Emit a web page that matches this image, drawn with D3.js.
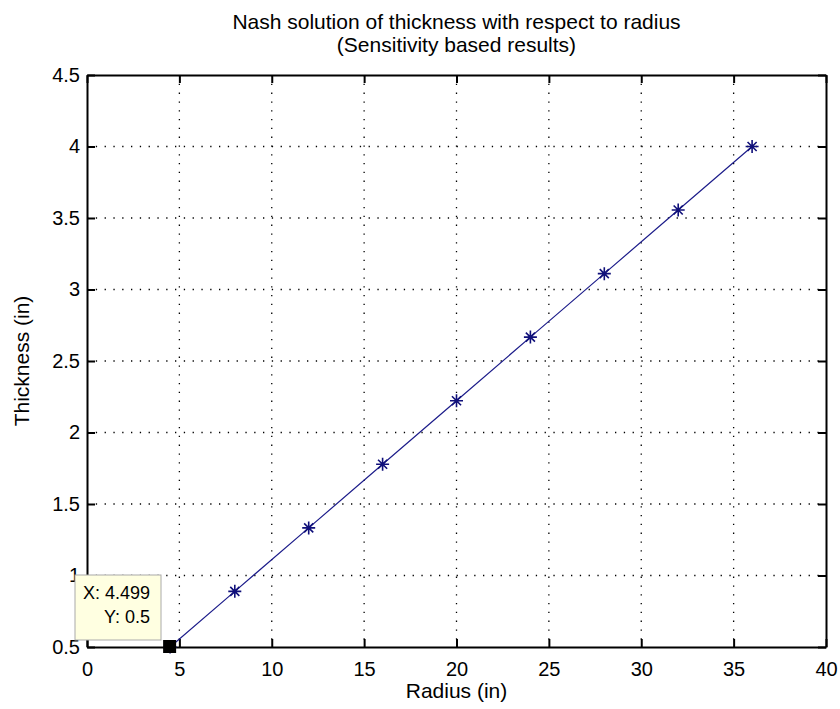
<!DOCTYPE html>
<html><head><meta charset="utf-8">
<script src="https://cdn.jsdelivr.net/npm/d3@7"></script>
<style>
html,body{margin:0;padding:0;background:#fff;}
text{font-family:"Liberation Sans",Arial,sans-serif;fill:#000;}
</style></head>
<body><svg id="chart" width="840" height="709"></svg>
<script>
const radius = [4.499, 8, 12, 16, 20, 24, 28, 32, 36];
const thickness = [0.5, 0.889, 1.333, 1.778, 2.222, 2.667, 3.111, 3.556, 4.0];
const xTicks = [0, 5, 10, 15, 20, 25, 30, 35, 40];
const yTicks = [0.5, 1, 1.5, 2, 2.5, 3, 3.5, 4, 4.5];
const titleLines = ["Nash solution of thickness with respect to radius", "(Sensitivity based results)"];
const tipLines = ["X: 4.499", "Y: 0.5"];

const svg = d3.select("#chart");
const L = 87, R = 826, T = 75, B = 647;
const x = d3.scaleLinear().domain([0, 40]).range([L, R]);
const y = d3.scaleLinear().domain([0.5, 4.5]).range([B, T]);

// grid
const g = svg.append("g");
g.selectAll(".gx").data(xTicks.slice(1, -1)).enter().append("line")
  .attr("x1", d => x(d)).attr("x2", d => x(d)).attr("y1", T).attr("y2", B)
  .attr("stroke", "#000").attr("stroke-width", 1.3).attr("stroke-dasharray", "1.3,7.5");
g.selectAll(".gy").data(yTicks.slice(1, -1)).enter().append("line")
  .attr("y1", d => y(d)).attr("y2", d => y(d)).attr("x1", L).attr("x2", R)
  .attr("stroke", "#000").attr("stroke-width", 1.3).attr("stroke-dasharray", "1.3,7.5");

// axes
const fmt = d => String(d);
const xb = svg.append("g").attr("transform", `translate(0,${B})`)
  .call(d3.axisBottom(x).tickValues(xTicks).tickFormat(fmt).tickSizeInner(-8).tickSizeOuter(0).tickPadding(15));
const xt = svg.append("g").attr("transform", `translate(0,${T})`)
  .call(d3.axisTop(x).tickValues(xTicks).tickFormat("").tickSizeInner(-8).tickSizeOuter(0));
const yl = svg.append("g").attr("transform", `translate(${L},0)`)
  .call(d3.axisLeft(y).tickValues(yTicks).tickFormat(fmt).tickSizeInner(-8).tickSizeOuter(0).tickPadding(7));
const yr = svg.append("g").attr("transform", `translate(${R},0)`)
  .call(d3.axisRight(y).tickValues(yTicks).tickFormat("").tickSizeInner(-8).tickSizeOuter(0));
[xb, xt, yl, yr].forEach(a => {
  a.selectAll("path").attr("stroke", "#000").attr("stroke-width", 2);
  a.selectAll("line").attr("stroke", "#000").attr("stroke-width", 2);
  a.selectAll("text").attr("font-size", 20).attr("font-family", "Liberation Sans, Arial, sans-serif").attr("fill", "#000");
});
xb.selectAll("text").attr("dy", "0.71em");
yl.selectAll("text").attr("dy", "0.32em");

// line
const line = d3.line().x((d, i) => x(radius[i])).y(d => y(d));
svg.append("path").datum(thickness).attr("d", line)
  .attr("fill", "none").attr("stroke", "#1c1c8a").attr("stroke-width", 1.2);

// star markers
const mk = svg.append("g");
thickness.forEach((t, i) => {
  const cx = x(radius[i]), cy = y(t), s = 6.5;
  const p = `M${cx - s},${cy}L${cx + s},${cy}M${cx},${cy - s}L${cx},${cy + s}` +
    `M${cx - s * 0.7},${cy - s * 0.7}L${cx + s * 0.7},${cy + s * 0.7}M${cx - s * 0.7},${cy + s * 0.7}L${cx + s * 0.7},${cy - s * 0.7}`;
  mk.append("path").attr("d", p).attr("stroke", "#10107a").attr("stroke-width", 1.6).attr("fill", "none");
});

// data tip
const tx = x(radius[0]), ty = y(thickness[0]);
svg.append("rect").attr("x", 75).attr("y", 575).attr("width", 86).attr("height", 65)
  .attr("fill", "#ffffe1").attr("stroke", "#aaaaaa").attr("stroke-width", 1);
svg.append("text").attr("x", 150).attr("y", 599).attr("text-anchor", "end").attr("font-size", 18).text(tipLines[0]);
svg.append("text").attr("x", 150).attr("y", 623).attr("text-anchor", "end").attr("font-size", 18).text(tipLines[1]);
svg.append("rect").attr("x", tx - 7).attr("y", ty - 7).attr("width", 13).attr("height", 13).attr("fill", "#000");

// titles
svg.append("text").attr("x", (L + R) / 2).attr("y", 29).attr("text-anchor", "middle").attr("font-size", 21).text(titleLines[0]);
svg.append("text").attr("x", (L + R) / 2).attr("y", 52).attr("text-anchor", "middle").attr("font-size", 21).text(titleLines[1]);
svg.append("text").attr("x", (L + R) / 2).attr("y", 698).attr("text-anchor", "middle").attr("font-size", 21).text("Radius (in)");
svg.append("text").attr("transform", `translate(29,${(T + B) / 2}) rotate(-90)`).attr("text-anchor", "middle").attr("font-size", 21).text("Thickness (in)");
</script></body></html>
